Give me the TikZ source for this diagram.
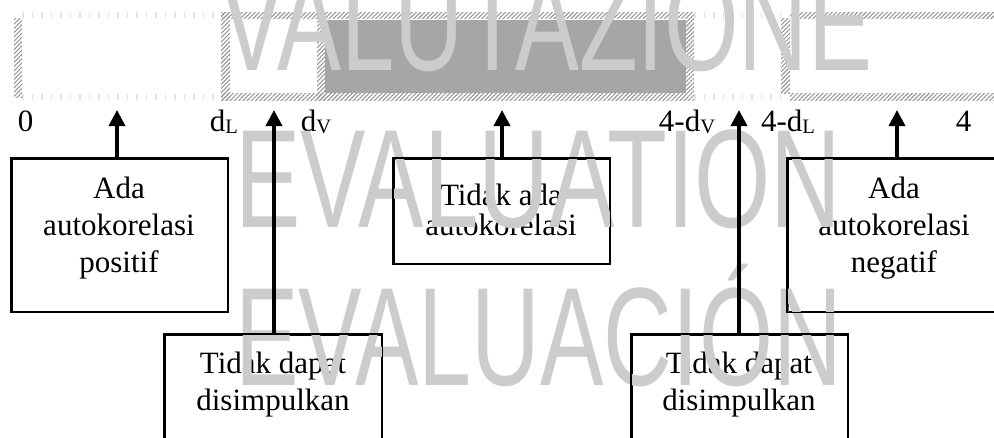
\documentclass[tikz,border=0pt]{standalone}
\usepackage{fontspec}
\setmainfont{Liberation Serif}
\newfontfamily\markfont{Liberation Sans}
\usetikzlibrary{arrows.meta,patterns.meta}

% lowered index for the bound labels d_L, d_V
\newcommand\lowidx[1]{\raisebox{-2.5pt}{\fontsize{20.5}{20}\selectfont #1}}

\begin{document}
\begin{tikzpicture}[x=1pt,y=-1pt,
  box/.style={draw=black, line width=1.5pt, fill=white},
  boxtext/.style={font=\fontsize{31}{37}\selectfont, align=center, inner sep=0pt, anchor=north},
  hatch/.style={pattern={Lines[angle=45,distance=3pt,line width=1.1pt]}, pattern color=gray!80},
  faintrule/.style={draw=gray!22, line width=6pt, dash pattern=on 1.5pt off 8pt},
  ticklabel/.style={font=\fontsize{31}{37}\selectfont, inner sep=0pt, anchor=base},
  uparrow/.style={line width=3.5pt, -{Triangle[width=16pt,length=16pt]}},
  wmark/.style={text=gray!40, inner sep=0pt, anchor=base west,
                font=\markfont\fontsize{140}{140}\selectfont},
]
\clip (0,0) rectangle (994,437);
\fill[white] (0,0) rectangle (994,437);

% ---- the Durbin-Watson scale band ----
% 0 .. dL
\draw[faintrule] (22,15) -- (222,15);
\draw[faintrule] (22,96.5) -- (222,96.5);
\fill[hatch] (14,18) rectangle (22,97);
% dL .. dV
\fill[hatch] (221,12) rectangle (317,18);
\fill[hatch] (221,93) rectangle (317,100);
\fill[hatch] (221,12) rectangle (230,100);
% dV .. 4-dV
\fill[fill={rgb,255:red,166;green,166;blue,166}] (325,20) rectangle (686,93);
\fill[hatch] (317,12) rectangle (686,18);
\fill[hatch] (317,93) rectangle (686,100);
\fill[hatch] (317,12) rectangle (325,100);
% 4-dV .. 4-dL
\fill[hatch] (686,12) rectangle (694,100);
\draw[faintrule] (694,15) -- (781,15);
\draw[faintrule] (694,96.5) -- (781,96.5);
% 4-dL .. 4
\fill[hatch] (781,18) rectangle (790,93);
\fill[hatch] (790,12) rectangle (994,18);
\fill[hatch] (790,93) rectangle (994,100);

% ---- bound labels ----
\node[ticklabel] (l0)   at (25.5,131) {0};
\node[ticklabel] (ldl)  at (224,131)  {d\lowidx{L}};
\node[ticklabel] (ldv)  at (316,131)  {d\lowidx{V}};
\node[ticklabel] (ldv4) at (687,131)  {4-d\lowidx{V}};
\node[ticklabel] (ldl4) at (788,131)  {4-d\lowidx{L}};
\node[ticklabel] (l4)   at (963.5,131) {4};

% ---- decision boxes ----
\node[box, anchor=north west, minimum width=216pt, minimum height=153pt, inner sep=0pt] (A) at (11,158) {};
\node[box, anchor=north west, minimum width=216pt, minimum height=105pt, inner sep=0pt] (B) at (393,158) {};
\node[box, anchor=north west, minimum width=216pt, minimum height=153pt, inner sep=0pt] (C) at (787,158) {};
\node[box, anchor=north west, minimum width=217pt, minimum height=130pt, inner sep=0pt] (D) at (164,334) {};
\node[box, anchor=north west, minimum width=216pt, minimum height=130pt, inner sep=0pt] (E) at (631,334) {};

\node[boxtext] (At) at (119,177) {Ada\\autokorelasi\\positif};
\node[boxtext, font=\fontsize{31}{30}\selectfont] (Bt) at (501,184) {Tidak ada\\autokorelasi};
\node[boxtext] (Ct) at (894,177) {Ada\\autokorelasi\\negatif};
\node[boxtext] (Dt) at (273,352) {Tidak dapat\\disimpulkan};
\node[boxtext] (Et) at (739,352) {Tidak dapat\\disimpulkan};

% ---- watermark lettering ----
\node[wmark] (w1) at (220,70)  {\scalebox{0.685}[1]{VALUTAZIONE}};
\node[wmark] (w2) at (235,227) {\scalebox{0.70}[1]{EVALUATION}};
\node[wmark] (w3) at (235,385) {\scalebox{0.68}[1]{EVALUACIÓN}};

% redraw the box outlines above the lettering
\foreach \b in {A,B,C,D,E} \draw[line width=1.5pt] (\b.north west) rectangle (\b.south east);

% ---- arrows from each box up to its region ----
\coordinate (tA) at (117,110);
\coordinate (tD) at (274,110);
\coordinate (tB) at (502,110);
\coordinate (tE) at (739,110);
\coordinate (tC) at (897,110);
\draw[uparrow] (A.north -| tA) -- (tA);
\draw[uparrow] (D.north -| tD) -- (tD);
\draw[uparrow] (B.north -| tB) -- (tB);
\draw[uparrow] (E.north -| tE) -- (tE);
\draw[uparrow] (C.north -| tC) -- (tC);
\end{tikzpicture}
\end{document}
